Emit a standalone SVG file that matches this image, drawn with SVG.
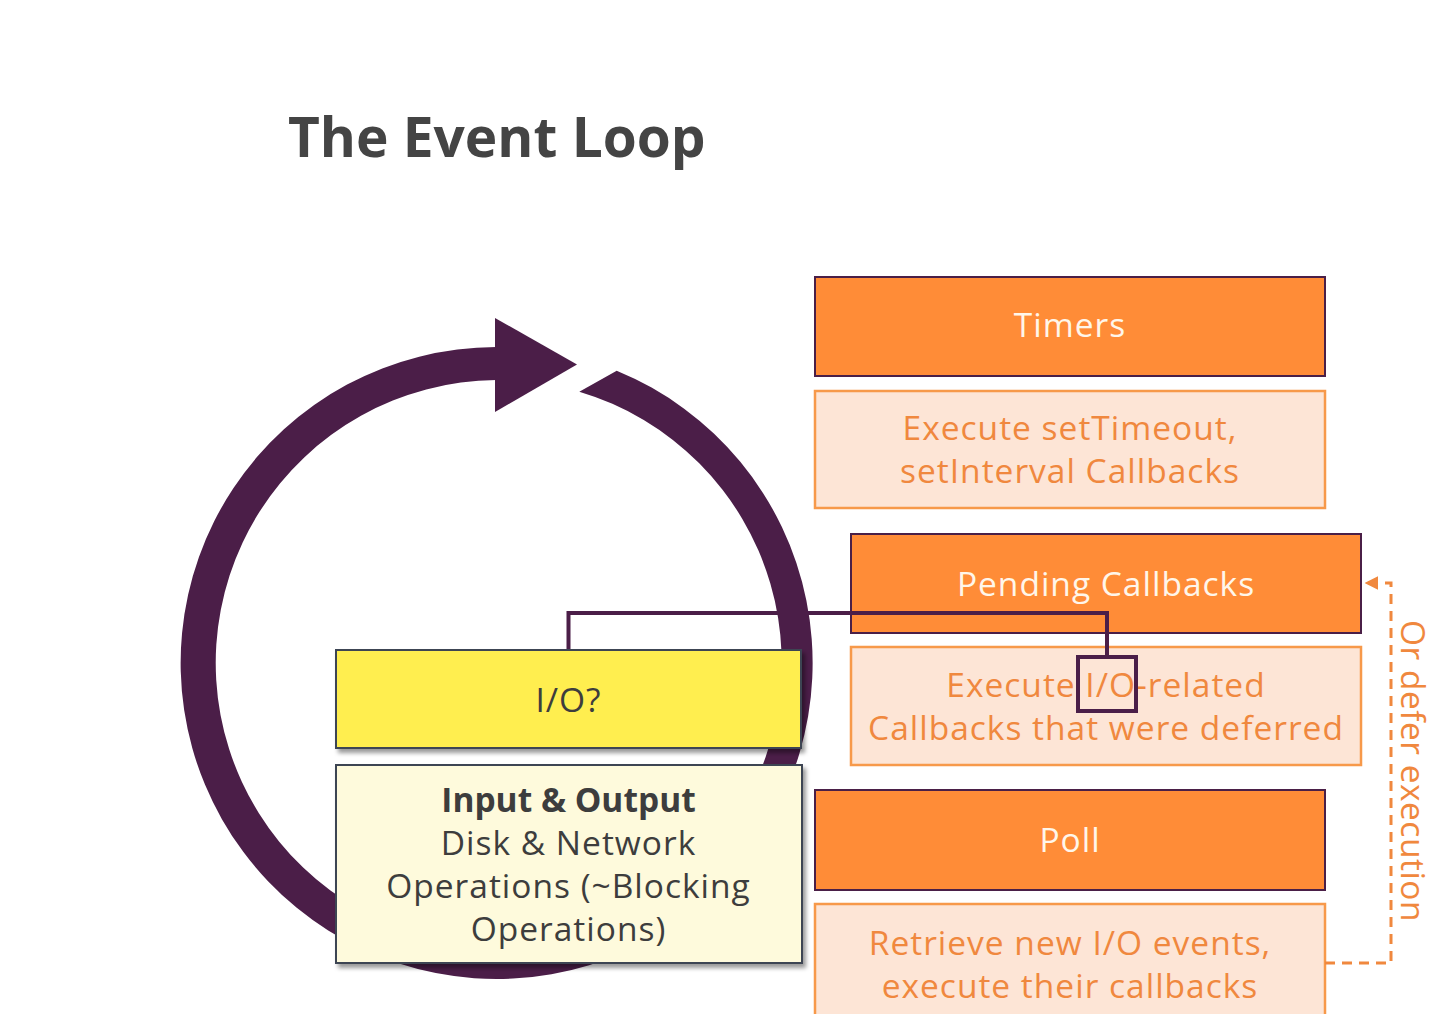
<svg xmlns="http://www.w3.org/2000/svg" width="1453" height="1014" viewBox="0 0 1453 1014">
<style>
.title{font-family:"Open Sans","Liberation Sans",sans-serif;font-weight:700;font-size:55px;fill:#444444}
.phase{fill:#FF8C37;stroke:#4A1F47;stroke-width:2}
.desc{fill:#FDE5D6;stroke:#F7994A;stroke-width:2.5}
.ptxt{font-family:"Open Sans","Liberation Sans",sans-serif;font-size:33.5px;letter-spacing:1px;fill:#FFF6EA;text-anchor:middle}
.dtxt{font-family:"Open Sans","Liberation Sans",sans-serif;font-size:33.5px;letter-spacing:1px;fill:#F0883E;text-anchor:middle}
.iotxt{font-family:"Open Sans","Liberation Sans",sans-serif;font-size:33.5px;letter-spacing:1px;fill:#3D3D3D;text-anchor:middle}
.iobold{font-weight:700;letter-spacing:0}
.yellow{fill:#FFEE50;stroke:#3D4452;stroke-width:2}
.cream{fill:#FEFADC;stroke:#3D4452;stroke-width:2}
.conn{fill:none;stroke:#4B1E48;stroke-width:4}
.dash{fill:none;stroke:#F0883E;stroke-width:3;stroke-dasharray:10 7}
</style>
<defs>
<filter id="shadow" x="-5%" y="-10%" width="115%" height="130%">
<feDropShadow dx="3" dy="4" stdDeviation="2" flood-color="#000" flood-opacity="0.4"/>
</filter>
<marker id="arrowO" viewBox="0 0 10 10" refX="9" refY="5" markerWidth="4.5" markerHeight="4.5" markerUnits="strokeWidth" orient="auto">
<path d="M0,0 L10,5 L0,10 Z" fill="#F0883E"/>
</marker>
</defs>
<rect width="1453" height="1014" fill="#FFFFFF"/>
<text class="title" x="288" y="157">The Event Loop</text>
<g id="loop">
<path d="M616.7,370.7 A316,316 0 1 1 496,347 L496,380 A283,283 0 1 0 579.3,391.7 Z" fill="#4B1E48"/>
<polygon points="495,318 577,364.5 495,412" fill="#4B1E48"/>
</g>
<g id="timers">
<rect class="phase" x="815" y="277" width="510" height="99"/>
<text class="ptxt" x="1070" y="337">Timers</text>
</g>
<g id="timers-desc">
<rect class="desc" x="815" y="391" width="510" height="117"/>
<text class="dtxt" x="1070" y="440">Execute setTimeout,</text>
<text class="dtxt" x="1070" y="483">setInterval Callbacks</text>
</g>
<g id="pending">
<rect class="phase" x="851" y="534" width="510" height="99"/>
<text class="ptxt" x="1106" y="596">Pending Callbacks</text>
</g>
<g id="pending-desc">
<rect class="desc" x="851" y="647" width="510" height="118"/>
<text class="dtxt" x="1106" y="697">Execute I/O-related</text>
<text class="dtxt" x="1106" y="740">Callbacks that were deferred</text>
</g>
<g id="poll">
<rect class="phase" x="815" y="790" width="510" height="100"/>
<text class="ptxt" x="1070" y="852">Poll</text>
</g>
<g id="poll-desc">
<rect class="desc" x="815" y="904" width="510" height="130"/>
<text class="dtxt" x="1070" y="955">Retrieve new I/O events,</text>
<text class="dtxt" x="1070" y="998">execute their callbacks</text>
</g>
<g id="connectors">
<polyline class="conn" points="568.5,650 568.5,613 1107,613 1107,657"/>
<rect class="conn" x="1078" y="657" width="58" height="54"/>
<polyline class="dash" points="1325,963 1391,963 1391,583 1366,583" marker-end="url(#arrowO)"/>
</g>
<g id="defer-label">
<text class="dtxt" transform="translate(1401,771) rotate(90)" style="letter-spacing:0.5px">Or defer execution</text>
</g>
<g id="io">
<rect class="yellow" x="336" y="650" width="465" height="98" filter="url(#shadow)"/>
<text class="iotxt" x="568.5" y="712">I/O?</text>
</g>
<g id="io-desc">
<rect class="cream" x="336" y="765" width="466" height="198" filter="url(#shadow)"/>
<text class="iotxt iobold" x="568.5" y="812">Input &amp; Output</text>
<text class="iotxt" x="568.5" y="855">Disk &amp; Network</text>
<text class="iotxt" x="568.5" y="898">Operations (~Blocking</text>
<text class="iotxt" x="568.5" y="941">Operations)</text>
</g>
</svg>
